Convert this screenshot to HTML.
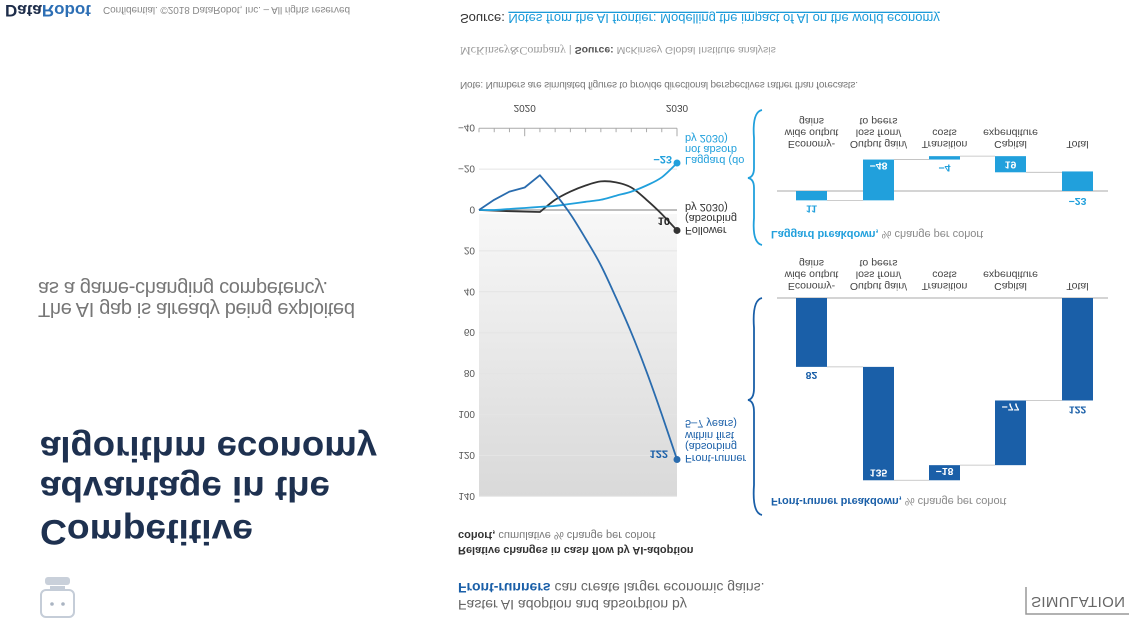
<!DOCTYPE html>
<html><head><meta charset="utf-8">
<style>
html,body{margin:0;padding:0;background:#fff;}
svg{display:block;font-family:"Liberation Sans",sans-serif;}
</style></head>
<body>
<svg id="root" width="1141" height="643" viewBox="0 0 1141 643" xmlns="http://www.w3.org/2000/svg">
<defs>
<linearGradient id="plotbg" x1="0" y1="0" x2="0" y2="1">
<stop offset="0" stop-color="#d9d9d9"/><stop offset="1" stop-color="#f7f7f7"/>
</linearGradient>
</defs>
<g id="flip" transform="matrix(1 0 0 -1 0 643)">
  <text x="5" y="638" font-size="17" font-weight="bold" fill="#1e2d4a">Data<tspan fill="#2d6fb5">Robot</tspan></text>
  <text x="103" y="636" font-size="10" fill="#888" textLength="247">Confidential. ©2018 DataRobot, Inc. – All rights reserved</text>
  <text x="460" y="629" font-size="13" fill="#333">Source: <tspan fill="#1a9ad9" text-decoration="underline">Notes from the AI frontier: Modelling the impact of AI on the world economy</tspan></text>
  <text x="460" y="596" font-size="10.5" fill="#999"><tspan font-family="Liberation Serif" font-size="12">McKinsey&amp;Company</tspan>  |  <tspan font-weight="bold" fill="#555">Source:</tspan> McKinsey Global Institute analysis</text>
  <text x="460" y="561" font-size="10" fill="#777" textLength="398">Note: Numbers are simulated figures to provide directional perspectives rather than forecasts.</text>

  <text x="40" y="123" font-size="35" font-weight="bold" fill="#1e3150" textLength="213" lengthAdjust="spacingAndGlyphs">Competitive</text>
  <text x="40" y="166" font-size="35" font-weight="bold" fill="#1e3150" textLength="290" lengthAdjust="spacingAndGlyphs">advantage in the</text>
  <text x="40" y="206" font-size="35" font-weight="bold" fill="#1e3150" textLength="337" lengthAdjust="spacingAndGlyphs">algorithm economy</text>
  <text x="38" y="340" font-size="20" fill="#777" textLength="317">The AI gap is already being exploited</text>
  <text x="38" y="361" font-size="20" fill="#777" textLength="290">as a game-changing competency.</text>

  <g>
    <rect x="41" y="26" width="33" height="27" rx="5" fill="none" stroke="#c5cdd8" stroke-width="2"/>
    <circle cx="52" cy="39" r="1.8" fill="#aab4c2"/><circle cx="63" cy="39" r="1.8" fill="#aab4c2"/>
    <rect x="50" y="53" width="15" height="4" fill="#c5cdd8"/>
    <rect x="45" y="58" width="25" height="8" rx="3" fill="#c9d0da"/>
  </g>

  <text x="458" y="43" font-size="14" fill="#666">Faster AI adoption and absorption by</text>
  <text x="458" y="60" font-size="14" fill="#666"><tspan font-weight="bold" fill="#1a5fa8">Front-runners</tspan> can create larger economic gains.</text>
  <text x="458" y="96" font-size="11" font-weight="bold" fill="#333">Relative changes in cash flow by AI-adoption</text>
  <text x="458" y="111" font-size="11" fill="#777"><tspan font-weight="bold" fill="#333">cohort,</tspan> cumulative % change per cohort</text>

  <g>
    <polyline points="1026,56 1026,29 1129,29" fill="none" stroke="#999" stroke-width="1.5"/>
    <text x="1031" y="46" font-size="15" fill="#666" textLength="94">SIMULATION</text>
  </g>

  <g id="linechart"></g>
  <g id="lag"></g>
  <g id="front"></g>

  <path d="M762,533 Q752,531 754,505 L754,475 Q754,466 748,465 Q754,464 754,455 L754,425 Q752,400 762,398" fill="none" stroke="#21a0dc" stroke-width="1.8"/>
  <path d="M762,345 Q752,343 754,315 L754,255 Q754,244 748,243 Q754,242 754,231 L754,158 Q752,130 762,128" fill="none" stroke="#1a5fa8" stroke-width="1.8"/>

  <text x="771" y="412" font-size="11" fill="#888"><tspan font-weight="bold" fill="#21a0dc">Laggard breakdown,</tspan> % change per cohort</text>
  <text x="771" y="145" font-size="11" fill="#888"><tspan font-weight="bold" fill="#1a5fa8">Front-runner breakdown,</tspan> % change per cohort</text>
</g>
</svg>
<script>
const NS="http://www.w3.org/2000/svg";
const years=[2017,2018,2019,2020,2021,2022,2023,2024,2025,2026,2027,2028,2029,2030];
const frontRunner=[0,-5,-9,-11,-17,-8,2,14,27,43,60,79,100,122];
const follower=[0,0.3,0.6,0.8,1,-5,-9,-12,-14,-13.5,-11,-5,2,10];
const laggard=[0,0,-0.5,-1,-1.5,-2,-3,-4,-5,-7,-9,-12,-16,-23];
const yTicks=[-40,-20,0,20,40,60,80,100,120,140];
const yTickLabels=["−40","−20","0","20","40","60","80","100","120","140"];
const yearLabels=[2020,2030];
const wfCategories=[["Economy-","wide output","gains"],["Output gain/","loss from/","to peers"],["Transition","costs"],["Capital","expenditure"],["Total"]];
const laggardSteps=[11,-48,-4,19,-23];
const laggardLabels=["11","−48","−4","19","−23"];
const frontSteps=[82,135,-18,-77,122];
const frontLabels=["82","135","−18","−77","122"];

function mk(parent,tag,attrs,text){const e=document.createElementNS(NS,tag);for(const k in attrs)e.setAttribute(k,attrs[k]);if(text!==undefined)e.textContent=text;parent.appendChild(e);return e;}

const X=y=>479+(y-2017)*(198/13);
const Y=v=>433-v*2.045;
const lc=document.getElementById('linechart');
let bg=mk(lc,'rect',{x:479,y:Y(140),width:198,height:Y(0)-Y(140)-4,fill:'url(#plotbg)'});


yTicks.forEach((t,i)=>{
  if(t!==-40){let g=mk(lc,'line',{x1:479,x2:677,y1:Y(t),y2:Y(t),stroke:t===0?'#999':'#e4e4e4','stroke-width':t===0?1.3:1});
  
  }
  let l=mk(lc,'text',{x:475,y:Y(t)+3.5,'font-size':10,fill:'#555','text-anchor':'end'},yTickLabels[i]);
  
  
});
let ax=mk(lc,'line',{x1:479,x2:677,y1:Y(-40),y2:Y(-40),stroke:'#aaa','stroke-width':1});


years.forEach(yr=>{
  const major=yearLabels.includes(yr);
  let t=mk(lc,'line',{x1:X(yr),x2:X(yr),y1:Y(-40),y2:Y(-40)-(major?8:4),stroke:'#aaa'});
  
  
});
yearLabels.forEach(yr=>{
  let t=mk(lc,'text',{x:X(yr),y:538,'font-size':10,fill:'#444','text-anchor':'middle'},String(yr));
  
  
});
// polyline up to index k, Catmull-Rom smoothing afterwards
function path(pts,k){
  let d='M'+pts[0][0].toFixed(1)+','+pts[0][1].toFixed(1);
  for(let i=0;i<pts.length-1;i++){
    const p1=pts[i],p2=pts[i+1];
    if(i<k){d+=' L'+p2[0].toFixed(1)+','+p2[1].toFixed(1);continue;}
    const p0=i===k?p1:pts[i-1],p3=pts[Math.min(i+2,pts.length-1)];
    const c1=[p1[0]+(p2[0]-p0[0])/6,p1[1]+(p2[1]-p0[1])/6];
    const c2=[p2[0]-(p3[0]-p1[0])/6,p2[1]-(p3[1]-p1[1])/6];
    d+=' C'+c1[0].toFixed(1)+','+c1[1].toFixed(1)+' '+c2[0].toFixed(1)+','+c2[1].toFixed(1)+' '+p2[0].toFixed(1)+','+p2[1].toFixed(1);
  }
  return d;
}
function series(vals,color,name,k){
  const pts=vals.map((v,i)=>[X(years[i]),Y(v)]);
  let l=mk(lc,'path',{d:path(pts,k),fill:'none',stroke:color,'stroke-width':1.8,'stroke-linejoin':'round'});
  
  
  const n=vals.length-1;
  let d=mk(lc,'circle',{cx:X(years[n]),cy:Y(vals[n]),r:3.5,fill:color});
  
  
}
series(follower,'#333','follower',4);
series(laggard,'#21a0dc','laggard',0);
series(frontRunner,'#2a6cae','front-runner',4);
function lbl(x,y,txt,color,bold,anchor,name){
  let t=mk(lc,'text',{x:x,y:y,'font-size':11,fill:color,'font-weight':bold?'bold':'normal','text-anchor':anchor||'start'},txt);
  
  
}
lbl(672,Y(laggard[13])+7,'−23','#21a0dc',true,'end','laggard-end-value');
lbl(670,Y(follower[13])+13,String(follower[13]),'#222',true,'end','follower-end-value');
lbl(668,Y(frontRunner[13])+9,String(frontRunner[13]),'#1a5fa8',true,'end','front-runner-end-value');
[['Laggard (do',486],['not absorb',497],['by 2030)',508]].forEach(a=>lbl(685,a[1],a[0],'#21a0dc',false,'start','laggard-label'));
[['Follower',416],['(absorbing',428],['by 2030)',439]].forEach(a=>lbl(685,a[1],a[0],'#333',false,'start','follower-label'));
[['Front-runner',188],['(absorbing',200],['within first',211],['5–7 years)',223]].forEach(a=>lbl(685,a[1],a[0],'#1a5fa8',false,'start','front-runner-label'));

const barX=[796,863,929,995,1062];
function waterfall(gid,steps,labels,base,scale,color,catY,name){
  const g=document.getElementById(gid);
  const Yw=v=>base-v*scale;
  let bl=mk(g,'line',{x1:777,x2:1108,y1:base,y2:base,stroke:'#aaa','stroke-width':1});
  
  
  let cum=0;
  steps.forEach((s,i)=>{
    const isTotal=i===steps.length-1;
    const from=isTotal?0:cum, to=isTotal?s:cum+s;
    const y1=Yw(Math.max(from,to)), y2=Yw(Math.min(from,to));
    if(i>0){const lv=isTotal?cum:from;let c=mk(g,'line',{x1:barX[i-1]+31,x2:barX[i],y1:Yw(lv),y2:Yw(lv),stroke:'#bbb','stroke-width':0.8});
      
      }
    let r=mk(g,'rect',{x:barX[i],y:y1,width:31,height:Math.max(y2-y1,2.5),fill:color});
    
    
    const h=y2-y1;
    let ty,fill='#fff';
    if(i===0){fill=color; ty=y1-5;}
    else if(isTotal){fill=color; ty= s>0 ? y1-6 : base-7;}
    else if(h>12){ ty= s>0? y1+11 : y2-3; }
    else { fill=color; ty=y1-5; }
    let t=mk(g,'text',{x:barX[i]+15.5,y:ty,'font-size':10.5,'font-weight':'bold',fill:fill,'text-anchor':'middle'},labels[i]);
    
    
    wfCategories[i].forEach((line,j)=>{
      let c=mk(g,'text',{x:barX[i]+15.5,y:catY+j*11.5,'font-size':10.5,fill:'#444','text-anchor':'middle'},line);
      
      
    });
    cum=to;
  });
}
waterfall('lag',laggardSteps,laggardLabels,452,0.85,'#21a0dc',502,'laggard');
waterfall('front',frontSteps,frontLabels,345,0.84,'#1a5fa8',360,'front-runner');
</script>
</body></html>
